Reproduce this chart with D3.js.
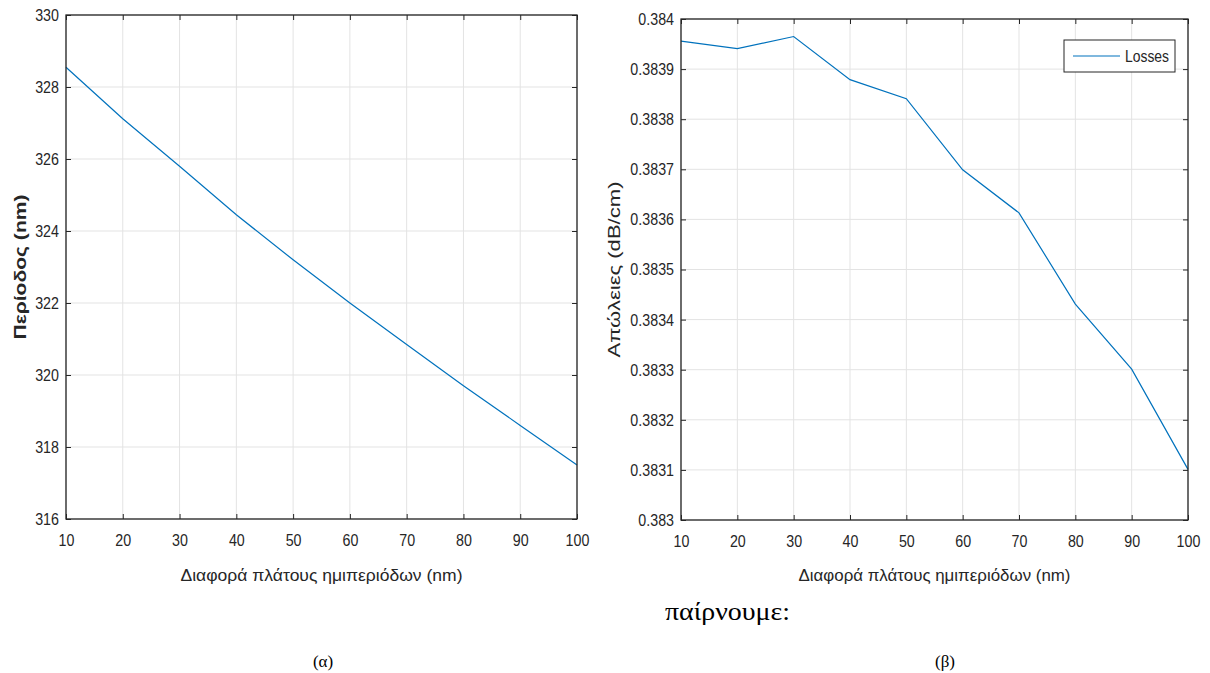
<!DOCTYPE html>
<html>
<head>
<meta charset="utf-8">
<script src="https://cdn.jsdelivr.net/npm/d3@7"></script>
<style>
  body { margin: 0; background: #fff; }
  svg { display: block; }
</style>
</head>
<body>
<svg id="fig" width="1210" height="673"></svg>
<script>
// x values (nm) shared by both plots
const diff = [10, 20, 30, 40, 50, 60, 70, 80, 90, 100];
// (α) period (nm)
const period = [328.55, 327.12, 325.8, 324.45, 323.2, 322.0, 320.85, 319.7, 318.6, 317.5];
// (β) losses (dB/cm)
const losses = [0.383956, 0.383941, 0.383965, 0.383879, 0.383841, 0.383699, 0.383613, 0.383431, 0.383301, 0.383101];
const xTicks = [10, 20, 30, 40, 50, 60, 70, 80, 90, 100];
const periodTicks = [316, 318, 320, 322, 324, 326, 328, 330];
const lossTicks = [0.383, 0.3831, 0.3832, 0.3833, 0.3834, 0.3835, 0.3836, 0.3837, 0.3838, 0.3839, 0.384];
const xLabel = "Διαφορά πλάτους ημιπεριόδων (nm)";

const svg = d3.select("#fig");
const sx = 0.84; // MATLAB fonts look narrow
const FONT = "Liberation Sans, Arial, sans-serif";

function panel(o) {
  let x = d3.scaleLinear().domain([10, 100]).range([o.left, o.right]);
  let y = d3.scaleLinear().domain(o.ydom).range([o.bottom, o.top]);
  let g = svg.append("g");

  //grid
  g.selectAll(".gx").data(xTicks).enter().append("line")
    .attr("x1", d => x(d)).attr("x2", d => x(d))
    .attr("y1", o.top).attr("y2", o.bottom)
    .attr("stroke", "#e3e3e3").attr("stroke-width", 1);
  g.selectAll(".gy").data(o.yticks).enter().append("line")
    .attr("x1", o.left).attr("x2", o.right)
    .attr("y1", d => y(d)).attr("y2", d => y(d))
    .attr("stroke", "#e3e3e3").attr("stroke-width", 1);

  //line
  let line = d3.line().x((d, i) => x(diff[i])).y(d => y(d));
  g.append("path").datum(o.values)
    .attr("d", line).attr("fill", "none")
    .attr("stroke", "#0072BD").attr("stroke-width", 1.2);

  //axes, ticks inward
  let ax = (sel, axis) => {
    sel.call(axis);
    sel.select(".domain").remove();
    sel.selectAll(".tick line").attr("stroke", "#262626");
    sel.selectAll(".tick text")
      .attr("font-family", FONT).attr("font-size", 17).attr("fill", "#262626")
      .attr("transform", "scale(" + sx + ",1)");
  };
  g.append("g").attr("transform", "translate(0," + o.bottom + ")")
    .call(s => ax(s, d3.axisBottom(x).tickValues(xTicks).tickSizeInner(-5).tickPadding(15).tickFormat(d3.format("d"))));
  g.append("g").attr("transform", "translate(0," + o.top + ")")
    .call(s => ax(s, d3.axisTop(x).tickValues(xTicks).tickSizeInner(-5).tickFormat("")));
  let yl = g.append("g").attr("transform", "translate(" + o.left + ",0)")
    .call(s => ax(s, d3.axisLeft(y).tickValues(o.yticks).tickSizeInner(-5).tickFormat(o.fmt)));
  yl.selectAll(".tick text").attr("x", -7 / sx);
  g.append("g").attr("transform", "translate(" + o.right + ",0)")
    .call(s => ax(s, d3.axisRight(y).tickValues(o.yticks).tickSizeInner(-5).tickFormat("")));

  g.append("rect")
    .attr("x", o.left).attr("y", o.top)
    .attr("width", o.right - o.left).attr("height", o.bottom - o.top)
    .attr("fill", "none").attr("stroke", "#262626").attr("stroke-width", 1.3);

  //labels
  g.append("text")
    .attr("x", (o.left + o.right) / 2).attr("y", 581)
    .attr("text-anchor", "middle")
    .attr("font-family", FONT).attr("font-size", 17)
    .attr("fill", "#262626")
    .attr("textLength", o.xlabW).attr("lengthAdjust", "spacingAndGlyphs")
    .text(xLabel);
  g.append("text")
    .attr("transform", "translate(" + o.ylabX + "," + (o.top + o.bottom) / 2 + ") rotate(-90)")
    .attr("text-anchor", "middle")
    .attr("font-family", FONT).attr("font-size", 17)
    .attr("font-weight", o.ylabBold ? "bold" : "normal")
    .attr("fill", "#262626")
    .attr("textLength", o.ylabW).attr("lengthAdjust", "spacingAndGlyphs")
    .text(o.ylab);
  return { x: x, y: y, g: g };
}

panel({
  left: 66, right: 577, top: 15, bottom: 519,
  ydom: [316, 330], yticks: periodTicks, fmt: d3.format("d"),
  values: period, ylab: "Περίοδος (nm)", ylabX: 26, ylabW: 145, ylabBold: true, xlabW: 282
});

let p2 = panel({
  left: 681, right: 1188, top: 19, bottom: 520,
  ydom: [0.383, 0.384], yticks: lossTicks, fmt: d => d3.format(".4~f")(d),
  values: losses, ylab: "Απώλειες (dB/cm)", ylabX: 620, ylabW: 176, ylabBold: false, xlabW: 272
});

//legend
let lg = p2.g.append("g");
lg.append("rect").attr("x", 1064).attr("y", 40).attr("width", 111).attr("height", 32)
  .attr("fill", "#fff").attr("stroke", "#262626").attr("stroke-width", 1);
lg.append("line").attr("x1", 1073).attr("x2", 1120).attr("y1", 56).attr("y2", 56)
  .attr("stroke", "#0072BD").attr("stroke-width", 1.2);
lg.append("text").attr("x", 1125).attr("y", 62)
  .attr("font-family", FONT).attr("font-size", 16)
  .attr("fill", "#262626").attr("textLength", 44).attr("lengthAdjust", "spacingAndGlyphs")
  .text("Losses");

//captions under the figure
svg.append("text").attr("x", 665).attr("y", 620)
  .attr("font-family", "Liberation Serif, Times New Roman, serif").attr("font-size", 25)
  .attr("fill", "#000").attr("textLength", 125).attr("lengthAdjust", "spacingAndGlyphs")
  .text("παίρνουμε:");
svg.append("text").attr("x", 323).attr("y", 667).attr("text-anchor", "middle")
  .attr("font-family", "Liberation Serif, Times New Roman, serif").attr("font-size", 17)
  .text("(α)");
svg.append("text").attr("x", 945).attr("y", 667).attr("text-anchor", "middle")
  .attr("font-family", "Liberation Serif, Times New Roman, serif").attr("font-size", 17)
  .text("(β)");
</script>
</body>
</html>
